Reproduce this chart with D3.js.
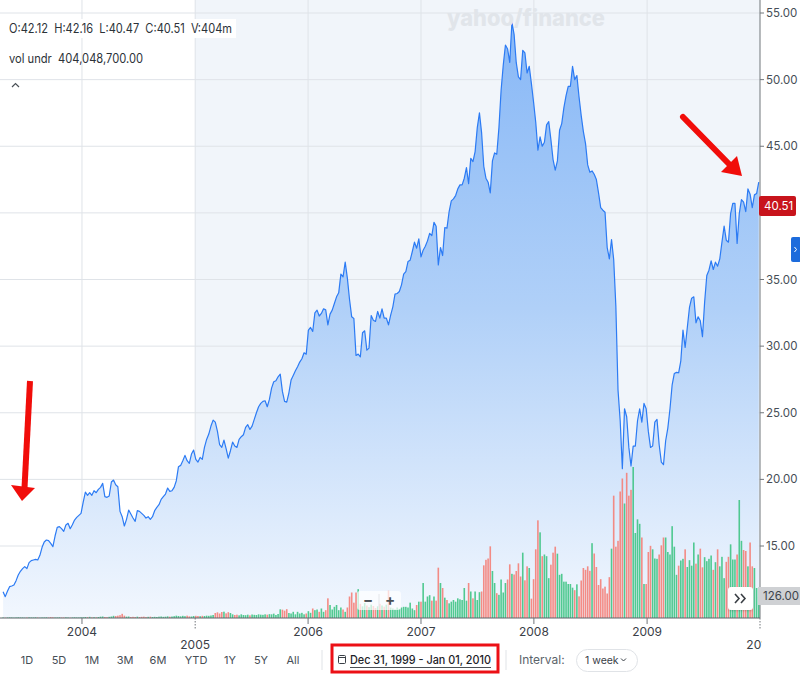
<!DOCTYPE html>
<html>
<head>
<meta charset="utf-8">
<script src="https://cdn.jsdelivr.net/npm/d3@7"></script>
<style>
  body { margin: 0; background: #fff; }
  svg { display: block; font-family: Inter, "Noto Sans", sans-serif; }
</style>
</head>
<body>
<script>
// weekly closes, first week starting Mon 21 Apr 2003
var firstWeek = new Date(2003, 3, 21);
var priceValues = [
  11.57, 11.2, 11.6, 11.95, 12.0, 12.07, 12.4, 12.82, 13.1, 13.3,
  13.45, 13.3, 13.75, 13.9, 13.95, 14.0, 13.95, 14.3, 14.9, 15.3,
  15.45, 15.4, 15.2, 14.95, 15.75, 16.4, 16.45, 16.3, 16.1, 16.58,
  16.7, 16.3, 16.6, 16.95, 17.15, 17.3, 17.45, 18.3, 19.05, 18.8,
  19.0, 18.8, 19.15, 19.0, 19.25, 19.4, 19.7, 18.7, 18.65, 18.75,
  19.8, 19.95, 19.6, 19.45, 17.6, 17.2, 16.5, 17.0, 17.7, 17.4,
  17.1, 16.85, 17.65, 17.6, 17.45, 17.3, 17.1, 17.2, 17.0, 17.2,
  17.65, 17.9, 18.1, 18.5, 18.7, 18.9, 19.35, 19.1, 19.15, 19.4,
  19.9, 20.95, 21.05, 21.4, 21.8, 21.4, 21.2, 21.9, 22.2, 21.5,
  21.3, 21.65, 21.5, 22.4, 23.0, 23.4, 24.0, 24.45, 24.3, 23.6,
  22.6, 22.4, 22.95, 22.3, 21.6, 22.15, 22.8, 22.5, 22.4, 23.0,
  23.2, 23.35, 23.9, 24.1, 23.75, 24.0, 24.5, 25.0, 25.45, 25.7,
  25.85, 25.9, 25.45, 26.0, 26.85, 27.33, 27.4, 27.7, 27.9, 26.6,
  25.85, 25.8, 26.5, 27.45, 27.8, 28.15, 28.45, 28.8, 29.05, 29.5,
  29.4, 31.2, 31.4, 31.1, 32.5, 32.7, 32.26, 32.45, 32.8, 32.72,
  31.6, 32.4, 32.7, 33.2, 33.7, 34.0, 35.4, 35.2, 36.3, 35.1,
  33.5, 32.2, 32.08, 29.3, 29.4, 29.2, 31.0, 31.15, 29.7, 29.85,
  32.3, 31.95, 31.85, 32.6, 32.1, 32.8, 32.1, 32.1, 31.6, 32.33,
  32.95, 33.9, 33.95, 34.1, 34.6, 35.4, 35.6, 36.35, 36.45, 37.1,
  37.8, 37.35, 38.05, 36.7, 37.2, 37.5, 37.9, 38.46, 38.3, 39.29,
  39.0, 36.1, 37.4, 36.8, 38.9, 38.85, 40.1, 40.9, 41.05, 41.3,
  41.8, 42.1, 42.1, 42.6, 43.4, 42.2, 44.1, 43.85, 44.6, 46.4,
  47.5, 46.0, 43.5, 42.6, 42.3, 41.5, 43.9, 44.5, 44.4, 46.4,
  49.2, 51.1, 52.6, 52.3, 51.3, 54.3, 53.4, 51.27, 50.2, 50.0,
  52.2, 52.0, 50.5, 51.0, 49.7, 48.3, 46.8, 44.7, 45.7, 45.0,
  45.3, 46.6, 46.85, 45.5, 44.0, 43.2, 43.9, 46.2, 46.7, 47.9,
  48.8, 49.5, 49.5, 51.0, 50.0, 50.3, 48.7, 47.3, 46.1, 45.2,
  43.6, 43.05, 43.15, 42.9, 42.5, 41.5, 40.4, 40.2, 40.05, 37.4,
  36.55, 38.0, 36.5, 33.0, 26.7, 24.4, 20.8, 25.3, 24.7, 22.4,
  21.0, 22.5, 22.5, 24.4, 25.3, 24.3, 25.7, 25.3, 23.6, 22.4,
  22.5, 24.3, 24.5, 22.6, 21.3, 21.1, 22.9, 23.85, 25.3, 27.1,
  27.95, 28.03, 28.0, 28.9, 31.2, 29.9, 31.4, 32.9, 33.6, 33.7,
  31.75, 32.2, 31.9, 30.71, 33.3, 35.3, 35.7, 36.4, 35.75, 36.3,
  36.0, 36.55, 37.8, 39.0, 37.95, 37.8, 39.95, 40.72, 40.72, 37.7,
  39.95, 41.0, 40.8, 40.1, 41.8, 41.4, 40.4, 41.35, 41.45, 42.3
];

// weekly volume, millions of shares
var volumeValues = [
  3, 2, 3, 4, 3, 2, 3, 4, 3, 3, 2, 3, 4, 3, 3, 4, 3, 2, 3, 3,
  4, 3, 5, 4, 3, 3, 4, 3, 3, 4, 3, 2, 3, 4, 3, 3, 4,
  4, 6, 5, 7, 4, 5, 4, 6, 8, 9, 6, 5, 7, 9, 13, 12, 14, 17, 25, 14,
  8, 9, 6, 7, 6, 8, 6, 7, 8, 6, 7, 8, 6, 7, 6, 8, 9, 7, 8, 10,
  8, 9, 11, 14, 12, 10, 13, 11, 14, 10, 9,
  12, 13, 12, 11, 13, 12, 14, 13, 15, 18, 30, 34, 27, 36, 38, 28, 35, 30, 22, 18,
  20, 16, 22, 18, 17, 20, 16, 21, 19, 18, 22, 20, 19, 22, 20, 23, 22, 26, 18, 24,
  52, 50, 44, 53, 30,
  27, 37, 22, 37, 27, 31, 22, 27, 41, 31, 57, 47, 51, 37, 57, 37, 47, 118, 78, 51,
  67, 78, 47, 63, 51, 37, 63, 129, 153, 92, 153, 173,
  85, 70, 90, 75, 65, 80, 72, 60, 70, 85, 75, 68, 80,
  163, 63, 57, 51, 63, 55, 63, 67, 67, 63, 92,
  57, 47, 78, 98, 98, 210, 98, 129, 137, 104, 129,
  104, 302, 210, 180, 122, 108, 88, 98, 108, 98,
  118, 112, 108, 180, 104, 210, 159, 118, 159, 108,
  155, 159, 316, 349, 357, 430, 282, 210, 149, 139,
  231, 153, 210, 231, 322, 265, 261, 282, 328,
  249, 392, 226, 310, 300, 116, 233, 412, 586, 514, 371,
  381, 371, 239, 320, 392, 428, 386, 259, 265, 218,
  218, 204, 204, 182, 167, 202, 130, 225, 300, 289,
  310, 283, 449, 387, 306, 198, 233, 177, 188, 147,
  245, 416, 734, 428, 463, 759, 837, 687, 871, 734,
  769, 906, 510, 592, 565, 483, 204, 204, 396, 433,
  412, 357, 355, 381, 436, 483, 483, 396, 381, 551,
  428, 259, 314, 345, 355, 412, 306, 347, 314, 453,
  326, 381, 416, 304, 365, 341, 355, 375, 289, 335,
  412, 310, 367, 239, 337, 367, 442, 351, 351, 381,
  708, 463, 408, 402, 310, 453, 310, 300, 180, 126
];

var priceTicks = [15, 20, 25, 30, 35, 40, 45, 50, 55];
var yearTicks = [2004, 2005, 2006, 2007, 2008, 2009, 2010];
var lowerRowYears = [2005, 2010];
var rangeButtons = ["1D", "5D", "1M", "3M", "6M", "YTD", "1Y", "5Y", "All"];
var ohlcLine = "O:42.12  H:42.16  L:40.47  C:40.51  V:404m";
var volumeLine = "vol undr  404,048,700.00";
var lastClose = 40.51;
var lastVolume = 126;
var dateRange = "Dec 31, 1999 - Jan 01, 2010";
var intervalLabel = "1 week";

var width = 800, height = 675, plotRight = 760, plotBottom = 618;

var weeks = priceValues.map(function(v, i) {
  return {
    date: d3.timeDay.offset(firstWeek, 7 * i),
    value: v,
    volume: volumeValues[i],
    up: i === 0 || v >= priceValues[i - 1]
  };
});

var x = d3.scaleTime()
    .domain([new Date(2003, 3, 11), new Date(2010, 0, 1)])
    .range([0, plotRight]);
var y = d3.scaleLinear().domain([15, 55]).range([546, 13]);
var yVol = d3.scaleLinear().domain([0, lastVolume]).range([plotBottom, 597]);
var fmt = d3.format(".2f");

var svg = d3.select("body").append("svg")
    .attr("width", width)
    .attr("height", height);

var defs = svg.append("defs");
var grad = defs.append("linearGradient")
    .attr("id", "fill")
    .attr("gradientUnits", "userSpaceOnUse")
    .attr("x1", 0).attr("x2", 0).attr("y1", 0).attr("y2", plotBottom);
grad.append("stop").attr("offset", 0).attr("stop-color", "#85b6f6");
grad.append("stop").attr("offset", 0.5).attr("stop-color", "#b0d0f8");
grad.append("stop").attr("offset", 1).attr("stop-color", "#f2f7fe");

defs.append("clipPath").attr("id", "plot")
  .append("rect").attr("x", 0).attr("y", 0).attr("width", plotRight).attr("height", plotBottom);
defs.append("clipPath").attr("id", "edge")
  .append("rect").attr("x", 0).attr("y", 0).attr("width", 762).attr("height", height);

var shadow = defs.append("filter").attr("id", "shadow")
    .attr("x", "-30%").attr("y", "-30%").attr("width", "160%").attr("height", "160%");
shadow.append("feDropShadow").attr("dx", 0).attr("dy", 1).attr("stdDeviation", 1.2)
    .attr("flood-color", "#000").attr("flood-opacity", 0.18);

// shaded band from 2005 on
svg.append("rect")
    .attr("x", x(new Date(2005, 0, 1))).attr("y", 0)
    .attr("width", plotRight - x(new Date(2005, 0, 1))).attr("height", plotBottom)
    .attr("fill", "#f1f5fa");

// grid
svg.append("g").selectAll("line")
    .data(priceTicks)
  .enter().append("line")
    .attr("x1", 0).attr("x2", plotRight)
    .attr("y1", function(d) { return y(d); })
    .attr("y2", function(d) { return y(d); })
    .attr("stroke", "#dfe3e8");
svg.append("g").selectAll("line")
    .data(yearTicks.slice(0, -1))
  .enter().append("line")
    .attr("x1", function(d) { return x(new Date(d, 0, 1)); })
    .attr("x2", function(d) { return x(new Date(d, 0, 1)); })
    .attr("y1", 0).attr("y2", plotBottom)
    .attr("stroke", "#dfe3e8");

var plot = svg.append("g").attr("clip-path", "url(#plot)");

plot.append("path")
    .datum(weeks)
    .attr("fill", "url(#fill)")
    .attr("d", d3.area()
      .x(function(d) { return x(d.date); })
      .y0(plotBottom)
      .y1(function(d) { return y(d.value); }));

plot.append("g").selectAll("rect")
    .data(weeks)
  .enter().append("rect")
    .attr("x", function(d) { return x(d.date) - 0.8; })
    .attr("y", function(d) { return yVol(d.volume); })
    .attr("width", 1.6)
    .attr("height", function(d) { return plotBottom - yVol(d.volume); })
    .attr("fill", function(d) { return d.up ? "#3fc485" : "#f47f78"; })
    .attr("fill-opacity", 0.9);

plot.append("path")
    .datum(weeks)
    .attr("fill", "none")
    .attr("stroke", "#2c7bf4")
    .attr("stroke-width", 1.2)
    .attr("stroke-linejoin", "round")
    .attr("d", d3.line()
      .x(function(d) { return x(d.date); })
      .y(function(d) { return y(d.value); }));

// zoom buttons over volume
var zb = svg.append("g");
zb.append("rect").attr("x", 357).attr("y", 591).attr("width", 44).attr("height", 19).attr("rx", 3)
    .attr("fill", "#fff").attr("fill-opacity", 0.7);
zb.append("line").attr("x1", 379).attr("x2", 379).attr("y1", 594).attr("y2", 607).attr("stroke", "#e4e6ea");
zb.append("text").attr("x", 368).attr("y", 605).attr("text-anchor", "middle")
    .attr("font-size", 15).attr("font-weight", 700).attr("fill", "#4a4f55").text("\u2212");
zb.append("text").attr("x", 390).attr("y", 605).attr("text-anchor", "middle")
    .attr("font-size", 15).attr("font-weight", 700).attr("fill", "#4a4f55").text("+");

// >> button
svg.append("rect").attr("x", 728).attr("y", 587).attr("width", 25).attr("height", 23).attr("rx", 3)
    .attr("fill", "#fff").attr("filter", "url(#shadow)");
svg.append("path").attr("d", "M735,594l4,4.5l-4,4.5M741,594l4,4.5l-4,4.5")
    .attr("fill", "none").attr("stroke", "#3a3f45").attr("stroke-width", 1.6);

// right axis; labels under the last-price marker are hidden, as on the site
svg.append("line").attr("x1", plotRight).attr("x2", plotRight).attr("y1", 0).attr("y2", plotBottom)
    .attr("stroke", "#71767b");
var ra = svg.append("g").selectAll("g")
    .data(priceTicks)
  .enter().append("g")
    .attr("transform", function(d) { return "translate(" + plotRight + "," + y(d) + ")"; });
ra.append("line").attr("x2", 4).attr("stroke", "#71767b");
ra.filter(function(d) { return Math.abs(y(d) - y(lastClose)) > 16; })
  .append("text").attr("x", 6).attr("dy", "0.35em")
    .attr("font-size", 11.5).attr("fill", "#464e56")
    .text(function(d) { return fmt(d); });

// last price marker
svg.append("rect").attr("x", 759).attr("y", y(lastClose) - 10).attr("width", 37).attr("height", 20).attr("rx", 2)
    .attr("fill", "#c8141c");
svg.append("text").attr("x", 764).attr("y", y(lastClose)).attr("dy", "0.36em")
    .attr("font-size", 11.5).attr("fill", "#fff").text(fmt(lastClose));

// blue side tab
svg.append("rect").attr("x", 791).attr("y", 237).attr("width", 10).attr("height", 25).attr("rx", 2)
    .attr("fill", "#1c6bdc");
svg.append("path").attr("d", "M794.5,247l2,2.5l-2,2.5").attr("fill", "none")
    .attr("stroke", "#fff").attr("stroke-width", 1);

// last volume marker
svg.append("rect").attr("x", 758).attr("y", 587).attr("width", 42).attr("height", 18)
    .attr("fill", "#cfd1d4");
svg.append("text").attr("x", 763).attr("y", 596).attr("dy", "0.36em")
    .attr("font-size", 11.5).attr("fill", "#3d434a").text(fmt(lastVolume));

// bottom axis
svg.append("line").attr("x1", 0).attr("x2", plotRight).attr("y1", plotBottom).attr("y2", plotBottom)
    .attr("stroke", "#5f656b");
var xa = svg.append("g").attr("clip-path", "url(#edge)").selectAll("g")
    .data(yearTicks)
  .enter().append("g")
    .attr("transform", function(d) { return "translate(" + x(new Date(d, 0, 1)) + "," + plotBottom + ")"; });
xa.append("line")
    .attr("y2", function(d) { return lowerRowYears.indexOf(d) >= 0 ? 11 : 6; })
    .attr("stroke", "#71767b")
    .attr("stroke-dasharray", function(d) { return lowerRowYears.indexOf(d) >= 0 ? "1.5,1.5" : null; });
xa.append("text")
    .attr("text-anchor", "middle")
    .attr("y", function(d) { return lowerRowYears.indexOf(d) >= 0 ? 31 : 18; })
    .attr("font-size", 12).attr("fill", "#3a4047")
    .text(function(d) { return d; });

// header readout
svg.append("rect").attr("x", 4).attr("y", 19).attr("width", 232).attr("height", 19).attr("fill", "#fff");
svg.append("text").attr("x", 9).attr("y", 33)
    .style("white-space", "pre")
    .attr("font-size", 12.5).attr("fill", "#2c3238")
    .attr("textLength", 223).attr("lengthAdjust", "spacingAndGlyphs")
    .text(ohlcLine);
svg.append("text").attr("x", 9).attr("y", 63)
    .style("white-space", "pre")
    .attr("font-size", 12.5).attr("fill", "#2c3238")
    .attr("textLength", 134).attr("lengthAdjust", "spacingAndGlyphs")
    .text(volumeLine);
svg.append("path").attr("d", "M12,87l3.5,-3.5l3.5,3.5").attr("fill", "none")
    .attr("stroke", "#4a5056").attr("stroke-width", 1.2);

// watermark
svg.append("text").attr("x", 447).attr("y", 26)
    .attr("font-size", 23).attr("font-weight", 800).attr("fill", "#e1e5ea")
    .attr("textLength", 158).attr("lengthAdjust", "spacingAndGlyphs")
    .text("yahoo/finance");

// annotation arrows
var red = "#f10d0a";
svg.append("line").attr("x1", 30).attr("y1", 381).attr("x2", 24.5).attr("y2", 488)
    .attr("stroke", red).attr("stroke-width", 6);
svg.append("path").attr("d", "M11,485L35,488L22,501Z").attr("fill", red);
svg.append("line").attr("x1", 683).attr("y1", 117).attr("x2", 729).attr("y2", 164)
    .attr("stroke", red).attr("stroke-width", 6).attr("stroke-linecap", "round");
svg.append("path").attr("d", "M721,172L737,156L742,176Z").attr("fill", red);

// range buttons
var bx = [27, 59, 92, 125, 158, 196, 230, 261, 293];
svg.append("g").selectAll("text")
    .data(rangeButtons)
  .enter().append("text")
    .attr("x", function(d, i) { return bx[i]; })
    .attr("y", 664)
    .attr("text-anchor", "middle")
    .attr("font-size", 11).attr("fill", "#464e56")
    .text(function(d) { return d; });

svg.append("line").attr("x1", 322).attr("x2", 322).attr("y1", 650).attr("y2", 670).attr("stroke", "#e0e3e7");
svg.append("line").attr("x1", 506).attr("x2", 506).attr("y1", 650).attr("y2", 670).attr("stroke", "#e0e3e7");

// calendar icon + date range
svg.append("rect").attr("x", 338.5).attr("y", 655.5).attr("width", 7).attr("height", 8).attr("rx", 1)
    .attr("fill", "none").attr("stroke", "#3a4047");
svg.append("line").attr("x1", 338.5).attr("x2", 345.5).attr("y1", 657.5).attr("y2", 657.5).attr("stroke", "#3a4047");
svg.append("text").attr("x", 350).attr("y", 664)
    .attr("font-size", 11.5).attr("font-weight", 500).attr("fill", "#1d2228")
    .attr("textLength", 141).attr("lengthAdjust", "spacingAndGlyphs")
    .text(dateRange);
svg.append("line").attr("x1", 350).attr("x2", 491).attr("y1", 667.5).attr("y2", 667.5)
    .attr("stroke", "#1d2228").attr("stroke-width", 0.8);
svg.append("rect").attr("x", 332).attr("y", 645).attr("width", 166).attr("height", 27)
    .attr("fill", "none").attr("stroke", "#ec1016").attr("stroke-width", 3);

svg.append("text").attr("x", 519).attr("y", 664)
    .attr("font-size", 12).attr("fill", "#5b636a").text("Interval:");
svg.append("rect").attr("x", 576.5).attr("y", 649.5).attr("width", 61).attr("height", 22).attr("rx", 11)
    .attr("fill", "#fff").attr("stroke", "#e0e3e7");
svg.append("text").attr("x", 585).attr("y", 664)
    .attr("font-size", 10.5).attr("fill", "#3a4047").text(intervalLabel);
svg.append("path").attr("d", "M621,658.5l2.5,2.5l2.5,-2.5").attr("fill", "none")
    .attr("stroke", "#3a4047").attr("stroke-width", 1);
</script>
</body>
</html>
